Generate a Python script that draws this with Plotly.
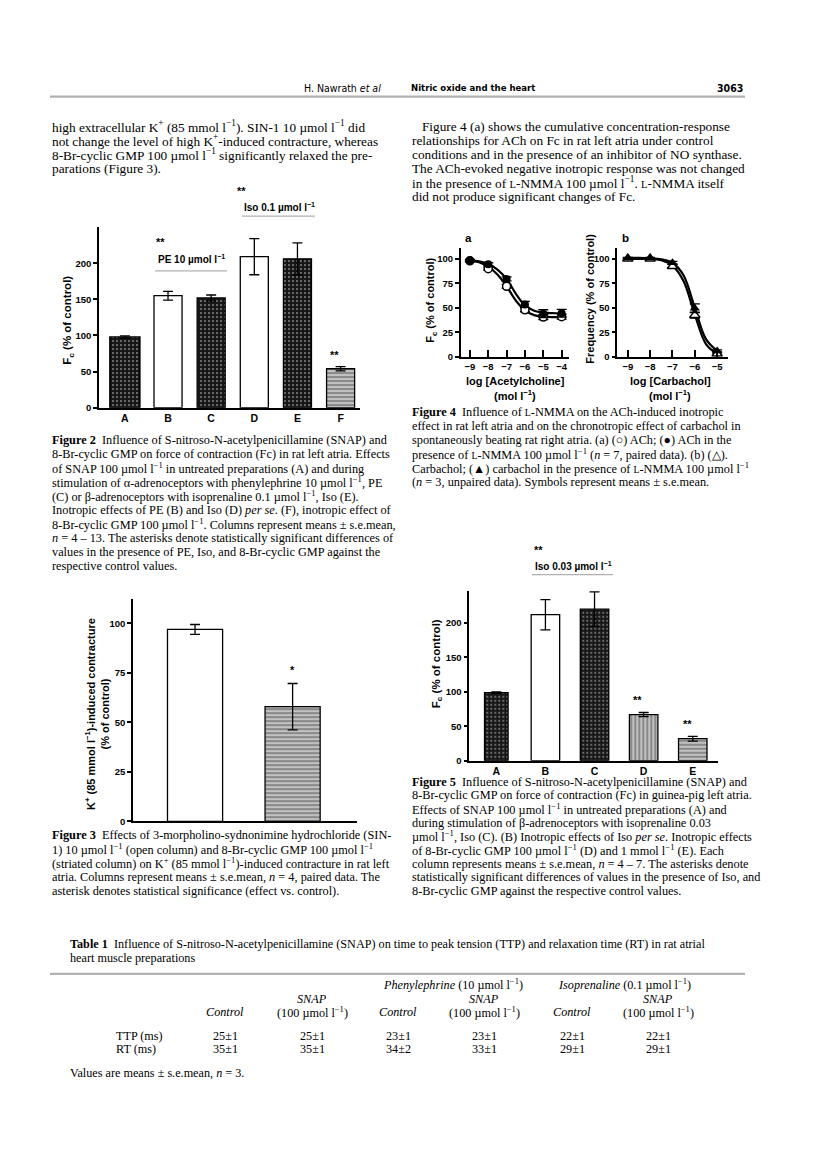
import plotly.graph_objects as go
import plotly.io as pio

pio.templates.default = "simple_white"

W, H = 816, 1160
OFF = 8  # page body margin of the html wrapper
SERIF = "Liberation Serif, Times New Roman, serif"
SANS = "Liberation Sans, Arial, sans-serif"
NARROW = "Liberation Sans Narrow, DejaVu Sans Condensed, Liberation Sans, sans-serif"

# ---- data ----
# Figure 2: Fc (% of control), rat left atria
fig2Labels = ["A", "B", "C", "D", "E", "F"]
fig2Values = [98, 155, 152, 209, 206, 54]
fig2Errors = [1.5, 6, 4, 25, 22, 3]

# Figure 4a: ACh concentration-response
achLogConc = [-9, -8, -7, -6, -5, -4]
achControl = [98, 90, 72, 48, 40.5, 41]
achControlErr = [1, 1.5, 2, 2, 2.5, 2.5]
achNMMA = [98.5, 94.5, 79.5, 53.5, 44, 44.5]
achNMMAErr = [1, 1.5, 2, 3, 4, 4]
achFitX = [-9, -8.5, -8, -7.5, -7, -6.5, -6, -5.5, -5, -4.5, -4]
achControlFit = [98.5, 96.5, 92, 84, 72, 57.5, 47.5, 42.5, 41, 40.5, 40.5]
achNMMAFit = [98.5, 97.5, 95, 89, 79.5, 64.5, 52.5, 47, 45, 44.5, 44.5]

# Figure 4b: carbachol, frequency
cchLogConc = [-9, -8, -7, -6, -5]
cchControl = [100, 100, 92.5, 42.5, 3]
cchControlErr = [0.5, 0.5, 2, 3, 1]
cchNMMA = [101, 101, 96, 49.5, 6]
cchNMMAErr = [0.5, 0.5, 1.5, 4.5, 1]
cchFitX = [-9, -8.5, -8, -7.5, -7, -6.5, -6, -5.5, -5]
cchControlFit = [100, 100, 100, 98.5, 93, 77, 43, 13, 3]
cchNMMAFit = [101, 101, 100.5, 99.5, 96, 83, 50, 18, 6]

# Figure 3: K+ induced contracture
fig3Labels = ["SIN-1", "8-Br-cyclic GMP"]
fig3Values = [97, 58]
fig3Errors = [2.5, 11.7]

# Figure 5: Fc (% of control), guinea-pig left atria
fig5Labels = ["A", "B", "C", "D", "E"]
fig5Values = [99, 212, 220, 67, 32]
fig5Errors = [1, 22, 25, 3, 3.5]

# Table 1
tableRows = ["TTP (ms)", "RT (ms)"]
tableValues = [["25±1", "25±1", "23±1", "23±1", "22±1", "22±1"],
               ["35±1", "35±1", "34±2", "33±1", "29±1", "29±1"]]

# ---- styles ----
fig2Fill = ["dark", "open", "dark", "open", "dark", "hstripe"]
fig2Widths = [0.7, 0.65, 0.65, 0.65, 0.65, 0.65]
fig3Fill = ["open", "hstripe"]
fig5Fill = ["dark", "open", "dark", "vstripe", "hstripe"]
fig5Widths = [0.48, 0.58, 0.58, 0.58, 0.58]

FILLS = {
    "dark": ("#161616", ".", "#555555", 0.18),
    "open": ("white", "", "black", 0.3),
    "hstripe": ("#cfcfcf", "-", "#000000", 0.6),
    "vstripe": ("#cfcfcf", "|", "#000000", 0.6),
}


def px(x):
    return (x - OFF) / W


def py(y):
    return 1 - (y - OFF) / H


def bar_marker(kinds):
    return dict(
        color=[FILLS[k][0] for k in kinds],
        line=dict(color="black", width=1.3),
        pattern=dict(
            shape=[FILLS[k][1] for k in kinds],
            fgcolor=[FILLS[k][2] for k in kinds],
            bgcolor=[FILLS[k][0] for k in kinds],
            solidity=[FILLS[k][3] for k in kinds],
            size=4,
        ),
    )


def err(arr):
    return dict(type="data", array=arr, color="black", thickness=1.3, width=5)


fig = go.Figure()

fig.add_trace(go.Bar(x=fig2Labels, y=fig2Values, width=fig2Widths,
                     marker=bar_marker(fig2Fill), error_y=err(fig2Errors),
                     xaxis="x", yaxis="y"))

# fig 4a
for fit in [achControlFit, achNMMAFit]:
    fig.add_trace(go.Scatter(x=achFitX, y=fit, mode="lines",
                             line=dict(color="black", width=2.2, shape="spline"),
                             xaxis="x2", yaxis="y2"))
fig.add_trace(go.Scatter(x=achLogConc, y=achControl, mode="markers",
                         marker=dict(symbol="circle", size=8, color="white", line=dict(color="black", width=1.5)),
                         error_y=err(achControlErr), xaxis="x2", yaxis="y2"))
fig.add_trace(go.Scatter(x=achLogConc, y=achNMMA, mode="markers",
                         marker=dict(symbol="circle", size=8, color="black"),
                         error_y=err(achNMMAErr), xaxis="x2", yaxis="y2"))

# fig 4b
for fit in [cchControlFit, cchNMMAFit]:
    fig.add_trace(go.Scatter(x=cchFitX, y=fit, mode="lines",
                             line=dict(color="black", width=2.2, shape="spline"),
                             xaxis="x3", yaxis="y3"))
fig.add_trace(go.Scatter(x=cchLogConc, y=cchControl, mode="markers",
                         marker=dict(symbol="triangle-up", size=9, color="white", line=dict(color="black", width=1.5)),
                         error_y=err(cchControlErr), xaxis="x3", yaxis="y3"))
fig.add_trace(go.Scatter(x=cchLogConc, y=cchNMMA, mode="markers",
                         marker=dict(symbol="triangle-up", size=9, color="black"),
                         error_y=err(cchNMMAErr), xaxis="x3", yaxis="y3"))

# fig 3
fig.add_trace(go.Bar(x=fig3Labels, y=fig3Values, width=0.565,
                     marker=bar_marker(fig3Fill), error_y=err(fig3Errors),
                     xaxis="x4", yaxis="y4"))

# fig 5
fig.add_trace(go.Bar(x=fig5Labels, y=fig5Values, width=fig5Widths,
                     marker=bar_marker(fig5Fill), error_y=err(fig5Errors),
                     xaxis="x5", yaxis="y5"))

tickfont = dict(family=SANS, size=9.5, color="black", weight="bold")
catfont = dict(family=SANS, size=10.5, color="black", weight="bold")


def xax(x0, x1, y_anchor, rng, **kw):
    d = dict(domain=[px(x0), px(x1)], range=rng, anchor=y_anchor, showline=True, linecolor="black",
             linewidth=1.5, showgrid=False, zeroline=False, tickfont=tickfont, ticks="", fixedrange=True)
    d.update(kw)
    return d


def yax(y0, y1, x_anchor, rng, ticks):
    return dict(domain=[py(y0), py(y1)], range=rng, anchor=x_anchor, tickvals=ticks, showline=True,
                linecolor="black", linewidth=1.5, ticks="outside", ticklen=4, tickwidth=1.5,
                tickcolor="black", showgrid=False, zeroline=False, tickfont=tickfont, fixedrange=True)


logTicks = dict(ticks="inside", ticklen=7, tickwidth=1.5, tickcolor="black")

fig.update_layout(
    width=W, height=H, margin=dict(l=0, r=0, t=0, b=0),
    paper_bgcolor="white", plot_bgcolor="white", showlegend=False,
    xaxis=xax(99, 360, "y", [-0.6, 5.45], type="category", tickfont=catfont),
    yaxis=yax(409.5, 228, "x", [0, 250], [0, 50, 100, 150, 200]),
    xaxis2=xax(460.7, 569, "y2", [-9.5, -3.6], tickvals=achLogConc, **logTicks),
    yaxis2=yax(358.3, 249.3, "x2", [0, 110.8], [0, 25, 50, 75, 100]),
    xaxis3=xax(617.3, 728.3, "y3", [-9.47, -4.5], tickvals=cchLogConc, **logTicks),
    yaxis3=yax(358.3, 249.3, "x3", [0, 110.8], [0, 25, 50, 75, 100]),
    xaxis4=xax(133, 357, "y4", [-0.636, 1.66], type="category", showticklabels=False),
    yaxis4=yax(825, 601.7, "x4", [0, 112.3], [0, 25, 50, 75, 100]),
    xaxis5=xax(469.3, 718.3, "y5", [-0.55, 4.52], type="category", tickfont=catfont),
    yaxis5=yax(764, 593.3, "x5", [0, 246.7], [0, 50, 100, 150, 200]),
)


def note(x, y, text, size=12.3, family=SERIF, anchor="left", angle=0, weight="normal"):
    fig.add_annotation(x=px(x), y=py(y), xref="paper", yref="paper", text=text, showarrow=False,
                       xanchor=anchor, yanchor="middle", textangle=angle,
                       font=dict(family=family, size=size, color="black", weight=weight))


def hline(x0, x1, y, width=1.3):
    fig.add_shape(type="line", xref="paper", yref="paper", x0=px(x0), x1=px(x1), y0=py(y), y1=py(y),
                  line=dict(color="black", width=width))


U = "µmol l<sup>−1</sup>"
NMMA = "<span style='font-size:0.8em'>L</span>-NMMA"
BODY = 13.3

# header
note(383, 88, "H. Nawrath <i>et al</i>", size=10.5, family=NARROW, anchor="right")
note(409, 88, "<b>Nitric oxide and the heart</b>", size=9.5, family=NARROW)
note(745, 88, "<b>3063</b>", size=10.5, family=NARROW, anchor="right")
hline(50, 745, 97, width=2.2)

leftText = [
    "high extracellular K<sup>+</sup> (85 mmol l<sup>−1</sup>). SIN-1 10 " + U + " did",
    "not change the level of high K<sup>+</sup>-induced contracture, whereas",
    "8-Br-cyclic GMP 100 " + U + " significantly relaxed the pre-",
    "parations (Figure 3).",
]
for i, t in enumerate(leftText):
    note(50, 127 + 14 * i, t, size=BODY)

rightText = [
    "   Figure 4 (a) shows the cumulative concentration-response",
    "relationships for ACh on Fc in rat left atria under control",
    "conditions and in the presence of an inhibitor of NO synthase.",
    "The ACh-evoked negative inotropic response was not changed",
    "in the presence of " + NMMA + " 100 " + U + ". " + NMMA + " itself",
    "did not produce significant changes of Fc.",
]
for i, t in enumerate(rightText):
    note(410, 127 + 14 * i, t, size=BODY)

# figure 2 labels
note(68, 322, "F<sub>c</sub> (% of control)", size=11.5, family=SANS, anchor="center", angle=-90, weight="bold")
note(160, 243, "**", size=11, family=SANS, anchor="center", weight="bold")
note(191, 260, "PE 10 " + U, size=10, family=SANS, anchor="center", weight="bold")
hline(155, 227, 272)
note(242, 192, "**", size=11, family=SANS, anchor="center", weight="bold")
note(279, 208, "Iso 0.1 " + U, size=10, family=SANS, anchor="center", weight="bold")
hline(242, 315, 217)
note(334, 356, "**", size=11, family=SANS, anchor="center", weight="bold")

fig2Caption = [
    "<b>Figure 2</b>  Influence of S-nitroso-N-acetylpenicillamine (SNAP) and",
    "8-Br-cyclic GMP on force of contraction (Fc) in rat left atria. Effects",
    "of SNAP 100 " + U + " in untreated preparations (A) and during",
    "stimulation of α-adrenoceptors with phenylephrine 10 " + U + ", PE",
    "(C) or β-adrenoceptors with isoprenaline 0.1 " + U + ", Iso (E).",
    "Inotropic effects of PE (B) and Iso (D) <i>per se</i>. (F), inotropic effect of",
    "8-Br-cyclic GMP 100 " + U + ". Columns represent means ± s.e.mean,",
    "<i>n</i> = 4 – 13. The asterisks denote statistically significant differences of",
    "values in the presence of PE, Iso, and 8-Br-cyclic GMP against the",
    "respective control values.",
]
for i, t in enumerate(fig2Caption):
    note(50, 442 + 14 * i, t)

# figure 4 labels
note(463, 239, "a", size=11.5, family=SANS, weight="bold")
note(620, 239, "b", size=11.5, family=SANS, weight="bold")
note(431, 302, "F<sub>c</sub> (% of control)", size=11, family=SANS, anchor="center", angle=-90, weight="bold")
note(590, 300, "Frequency (% of control)", size=11, family=SANS, anchor="center", angle=-90, weight="bold")
note(515, 383, "log [Acetylcholine]", size=11, family=SANS, anchor="center", weight="bold")
note(515, 397, "(mol l<sup>−1</sup>)", size=11, family=SANS, anchor="center", weight="bold")
note(670, 383, "log [Carbachol]", size=11, family=SANS, anchor="center", weight="bold")
note(670, 397, "(mol l<sup>−1</sup>)", size=11, family=SANS, anchor="center", weight="bold")

fig4Caption = [
    "<b>Figure 4</b>  Influence of " + NMMA + " on the ACh-induced inotropic",
    "effect in rat left atria and on the chronotropic effect of carbachol in",
    "spontaneously beating rat right atria. (a) (○) ACh; (●) ACh in the",
    "presence of " + NMMA + " 100 " + U + " (<i>n</i> = 7, paired data). (b) (△).",
    "Carbachol; (▲) carbachol in the presence of " + NMMA + " 100 " + U,
    "(<i>n</i> = 3, unpaired data). Symbols represent means ± s.e.mean.",
]
for i, t in enumerate(fig4Caption):
    note(410, 414 + 14 * i, t)

# figure 3 labels
note(97, 717, "K<sup>+</sup> (85 mmol l<sup>−1</sup>)-induced contracture<br>(% of control)",
     size=11, family=SANS, anchor="center", angle=-90, weight="bold")
note(292, 673, "*", size=11, family=SANS, anchor="center", weight="bold")

fig3Caption = [
    "<b>Figure 3</b>  Effects of 3-morpholino-sydnonimine hydrochloride (SIN-",
    "1) 10 " + U + " (open column) and 8-Br-cyclic GMP 100 " + U,
    "(striated column) on K<sup>+</sup> (85 mmol l<sup>−1</sup>)-induced contracture in rat left",
    "atria. Columns represent means ± s.e.mean, <i>n</i> = 4, paired data. The",
    "asterisk denotes statistical significance (effect vs. control).",
]
for i, t in enumerate(fig3Caption):
    note(50, 839 + 14 * i, t)

# figure 5 labels
note(437, 667, "F<sub>c</sub> (% of control)", size=11.5, family=SANS, anchor="center", angle=-90, weight="bold")
note(538, 552, "**", size=11, family=SANS, anchor="center", weight="bold")
note(573, 568, "Iso 0.03 " + U, size=10, family=SANS, anchor="center", weight="bold")
hline(532, 613, 577)
note(637, 703, "**", size=11, family=SANS, anchor="center", weight="bold")
note(687, 727, "**", size=11, family=SANS, anchor="center", weight="bold")

fig5Caption = [
    "<b>Figure 5</b>  Influence of S-nitroso-N-acetylpenicillamine (SNAP) and",
    "8-Br-cyclic GMP on force of contraction (Fc) in guinea-pig left atria.",
    "Effects of SNAP 100 " + U + " in untreated preparations (A) and",
    "during stimulation of β-adrenoceptors with isoprenaline 0.03",
    U + ", Iso (C). (B) Inotropic effects of Iso <i>per se</i>. Inotropic effects",
    "of 8-Br-cyclic GMP 100 " + U + " (D) and 1 mmol l<sup>−1</sup> (E). Each",
    "column represents means ± s.e.mean, <i>n</i> = 4 – 7. The asterisks denote",
    "statistically significant differences of values in the presence of Iso, and",
    "8-Br-cyclic GMP against the respective control values.",
]
for i, t in enumerate(fig5Caption):
    note(410, 785 + 13.75 * i, t)

# table
TS = 12.2
note(68, 948, "<b>Table 1</b>  Influence of S-nitroso-N-acetylpenicillamine (SNAP) on time to peak tension (TTP) "
     "and relaxation time (RT) in rat atrial", size=TS)
note(68, 962, "heart muscle preparations", size=TS)
hline(50, 745, 978, width=2.2)
note(453, 988, "<i>Phenylephrine</i> (10 " + U + ")", size=TS, anchor="center")
note(624, 988, "<i>Isoprenaline</i> (0.1 " + U + ")", size=TS, anchor="center")
colX = [225, 312, 398, 484, 572, 658]
for j, x in enumerate(colX):
    if j % 2 == 0:
        note(x, 1016, "<i>Control</i>", size=TS, anchor="center")
    else:
        note(x, 1003, "<i>SNAP</i>", size=TS, anchor="center")
        note(x, 1016, "(100 " + U + ")", size=TS, anchor="center")
for i, row in enumerate(tableRows):
    note(114, 1040 + 14 * i, row, size=TS)
    for j, x in enumerate(colX):
        note(x, 1040 + 14 * i, tableValues[i][j], size=TS, anchor="center")
note(68, 1078, "Values are means ± s.e.mean, <i>n</i> = 3.", size=TS)

fig.write_html("out.html")
